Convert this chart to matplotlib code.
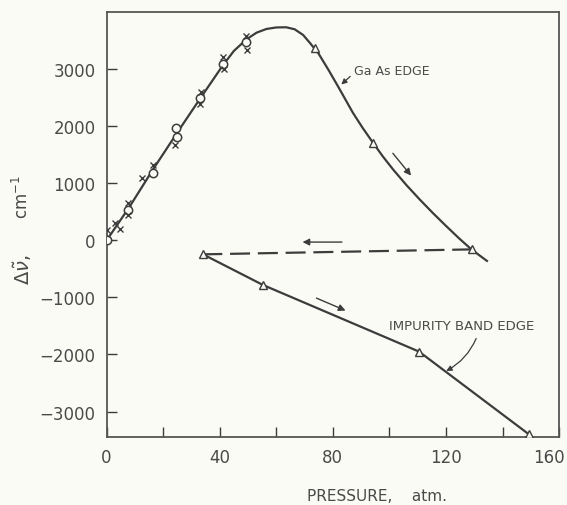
import numpy as np
import matplotlib.pyplot as plt
from matplotlib.transforms import ScaledTranslation

# GaAs edge, increasing pressure: open circles and crosses
circ_p = [0, 7.6, 16.5, 24.7, 25.0, 33.0, 41.2, 49.2]
circ_v = [0, 540, 1185, 1973, 1810, 2500, 3095, 3473]
cross_p = [0, 2.9, 4.7, 7.6, 7.4, 12.4, 16.5, 24.1, 33.0, 33.3, 41.2, 41.6, 49.2, 49.5]
cross_v = [185, 300, 205, 655, 445, 1086, 1316, 1664, 2394, 2597, 3210, 3007, 3578, 3333]

# GaAs edge curve
gaas_p = [0, 8, 16.5, 25, 33, 41, 45, 49.5, 53, 56.5, 60, 63.5, 66.5, 69.5, 72, 75,
          78.5, 81.8, 84.5, 87.1, 90.5, 94.2, 97.7, 101.3, 106, 110.7, 115.4, 120.1,
          124.5, 129.0, 134.5]
gaas_v = [0, 580, 1250, 1890, 2480, 3060, 3320, 3525, 3640, 3705, 3732, 3735, 3700,
          3600, 3455, 3270, 2985, 2702, 2465, 2236, 1975, 1711, 1470, 1243, 970,
          718, 478, 250, 42, -158, -360]
gaas_tri_p = [73.6, 94.2]
gaas_tri_v = [3375, 1711]

# return path (dashed) and impurity band edge
dash_p = [129.3, 34.1]
dash_v = [-158, -245]
imp_p = [34.1, 55.3, 110.5, 149.3]
imp_v = [-245, -782, -1950, -3398]

ink = '#3c3c3c'
txt = '#4a4a4a'
bg = '#fbfbf5'

fig = plt.figure(figsize=(5.67, 5.06), dpi=100, facecolor=bg)
ax = fig.add_axes([0.188, 0.134, 0.798, 0.840], facecolor=bg)

ax.plot(gaas_p, gaas_v, '-', color=ink, lw=1.6)
ax.plot(dash_p, dash_v, '--', color=ink, lw=1.6, dashes=(9, 3.5))
ax.plot(imp_p, imp_v, '-', color=ink, lw=1.6)

ax.plot(circ_p, circ_v, 'o', mfc=bg, mec=ink, ms=6, mew=1.1, zorder=4)
ax.plot(cross_p, cross_v, 'x', color=ink, ms=5, mew=1.0, zorder=4)
ax.plot(gaas_tri_p + [129.3] + imp_p, gaas_tri_v + [-158] + imp_v, '^',
        mfc=bg, mec=ink, ms=6, mew=1.0, zorder=4)

# direction arrows
arr = dict(arrowstyle='-|>', color=ink, lw=1.0, mutation_scale=10)
ax.annotate('', xy=(108.3, 1098), xytext=(100.6, 1564), arrowprops=arr)
ax.annotate('', xy=(68.3, -30), xytext=(84.2, -30), arrowprops=arr)
ax.annotate('', xy=(85.4, -1249), xytext=(73.3, -993), arrowprops=arr)

# labels
ax.annotate('Ga As EDGE', xy=(83, 2732), xytext=(87.5, 2980),
            fontsize=9, color=txt, ha='left', va='center',
            arrowprops=dict(arrowstyle='-|>', color=ink, lw=0.9, mutation_scale=8,
                            shrinkA=1, shrinkB=0, relpos=(0, 0.3)))
ax.annotate('IMPURITY BAND EDGE', xy=(120.1, -2289), xytext=(125.4, -1489),
            fontsize=9.5, color=txt, ha='center', va='center',
            arrowprops=dict(arrowstyle='-|>', color=ink, lw=0.9, mutation_scale=8,
                            shrinkA=3, shrinkB=0, relpos=(0.62, 0),
                            connectionstyle='arc3,rad=-0.2'))

ax.set_xlim(0, 160)
ax.set_ylim(-3450, 4000)
xt = np.arange(0, 161, 20)
ax.set_xticks(xt)
ax.set_xticklabels([str(t) if t % 40 == 0 else '' for t in xt])
ax.set_yticks([-3000, -2000, -1000, 0, 1000, 2000, 3000])
ax.tick_params(direction='in', length=7, width=1.0, colors=ink,
               labelsize=12, labelcolor=txt, pad=8)
for s in ax.spines.values():
    s.set_color('#555555')
    s.set_linewidth(1.3)

# pull "160" in so it stays inside the figure
last = ax.get_xticklabels()[-1]
last.set_transform(last.get_transform() + ScaledTranslation(-10 / 100, 0, fig.dpi_scale_trans))

fig.text(0.665, 0.018, 'PRESSURE,    atm.', fontsize=11, color=txt,
         ha='center', va='center')
fig.text(0.039, 0.61, r'cm$^{-1}$', fontsize=12, color=txt, rotation=90,
         ha='center', va='center')
fig.text(0.040, 0.466, r'$\Delta\tilde{\nu}$,', fontsize=14, color=txt,
         rotation=90, ha='center', va='center')

fig.savefig('out.png', dpi=100, facecolor=bg)
